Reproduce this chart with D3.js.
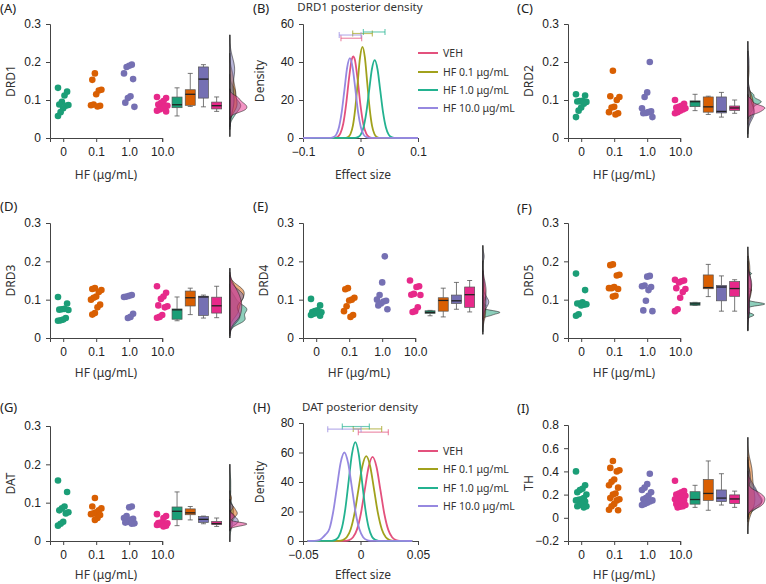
<!DOCTYPE html>
<html><head><meta charset="utf-8">
<script src="https://cdn.jsdelivr.net/npm/d3@7"></script>
<style>
body{margin:0;background:#fff;}
svg{display:block;}
text{font-family:"Noto Sans",sans-serif;}
.tick text{font-family:"Liberation Sans",Arial,sans-serif;font-size:12px;fill:#222;}
</style></head><body>
<svg id="c" width="766" height="584"></svg>
<script>
// ---------- categories ----------
const doses = ["0", "0.1", "1.0", "10.0"];
const seriesNames = ["VEH", "HF 0.1 μg/mL", "HF 1.0 μg/mL", "HF 10.0 μg/mL"];

// ---------- scatter data (per dose group: 0, 0.1, 1.0, 10.0 μg/mL) ----------
const drd1_0  = [0.132, 0.122, 0.112, 0.095, 0.088, 0.087, 0.085, 0.078, 0.068, 0.058];
const drd1_01 = [0.17, 0.153, 0.127, 0.125, 0.115, 0.088, 0.086, 0.085, 0.083];
const drd1_1  = [0.193, 0.19, 0.187, 0.17, 0.155, 0.11, 0.105, 0.093, 0.082];
const drd1_10 = [0.108, 0.105, 0.097, 0.092, 0.088, 0.085, 0.083, 0.078, 0.075, 0.072, 0.07];

const drd2_0  = [0.115, 0.112, 0.098, 0.097, 0.096, 0.095, 0.09, 0.08, 0.072, 0.055];
const drd2_01 = [0.177, 0.11, 0.108, 0.1, 0.082, 0.08, 0.068, 0.065, 0.062];
const drd2_1  = [0.2, 0.12, 0.108, 0.078, 0.07, 0.068, 0.066, 0.065, 0.055];
const drd2_10 = [0.1, 0.09, 0.085, 0.082, 0.08, 0.078, 0.075, 0.072, 0.068, 0.065];

const drd3_0  = [0.107, 0.09, 0.076, 0.075, 0.074, 0.073, 0.052, 0.048, 0.046, 0.045];
const drd3_01 = [0.13, 0.128, 0.125, 0.12, 0.108, 0.105, 0.1, 0.087, 0.08, 0.065, 0.061];
const drd3_1  = [0.112, 0.11, 0.108, 0.107, 0.063, 0.055, 0.052];
const drd3_10 = [0.135, 0.118, 0.108, 0.102, 0.085, 0.083, 0.08, 0.06, 0.055, 0.053];

const drd4_0  = [0.102, 0.085, 0.072, 0.07, 0.068, 0.067, 0.066, 0.065, 0.063, 0.06, 0.058];
const drd4_01 = [0.13, 0.127, 0.105, 0.1, 0.098, 0.083, 0.07, 0.06, 0.055];
const drd4_1  = [0.213, 0.145, 0.112, 0.1, 0.097, 0.095, 0.09, 0.085, 0.075];
const drd4_10 = [0.15, 0.135, 0.133, 0.115, 0.113, 0.112, 0.08, 0.07, 0.068];

const drd5_0  = [0.168, 0.125, 0.093, 0.09, 0.09, 0.088, 0.087, 0.085, 0.062, 0.058];
const drd5_01 = [0.192, 0.19, 0.165, 0.163, 0.133, 0.13, 0.13, 0.128, 0.11, 0.108];
const drd5_1  = [0.162, 0.16, 0.137, 0.135, 0.133, 0.125, 0.097, 0.072, 0.07];
const drd5_10 = [0.152, 0.15, 0.148, 0.145, 0.13, 0.128, 0.12, 0.105, 0.075, 0.07];

const dat_0  = [0.158, 0.128, 0.09, 0.085, 0.08, 0.075, 0.072, 0.05, 0.045, 0.04];
const dat_01 = [0.112, 0.09, 0.085, 0.08, 0.075, 0.072, 0.07, 0.068, 0.06, 0.055];
const dat_1  = [0.09, 0.088, 0.065, 0.06, 0.058, 0.055, 0.05, 0.048, 0.046, 0.045];
const dat_10 = [0.07, 0.065, 0.06, 0.048, 0.047, 0.046, 0.045, 0.044, 0.043, 0.042, 0.04, 0.038];

const th_0  = [0.4, 0.28, 0.25, 0.24, 0.22, 0.2, 0.17, 0.16, 0.155, 0.15, 0.14, 0.12, 0.11, 0.1, 0.1, 0.09];
const th_01 = [0.49, 0.43, 0.41, 0.4, 0.33, 0.31, 0.28, 0.26, 0.21, 0.2, 0.17, 0.16, 0.15, 0.12, 0.1, 0.07, 0.065];
const th_1  = [0.38, 0.29, 0.26, 0.24, 0.22, 0.19, 0.17, 0.16, 0.15, 0.14, 0.13, 0.12, 0.11];
const th_10 = [0.32, 0.23, 0.22, 0.21, 0.2, 0.19, 0.18, 0.17, 0.165, 0.16, 0.15, 0.14, 0.13, 0.12, 0.11, 0.1, 0.095, 0.09];

// ---------- posterior densities: [effect size, density] ----------
const drd1Post_veh = [[-0.1,0],[-0.045,0.1],[-0.04,0.55],[-0.035,2.4],[-0.03,7.5],[-0.025,17.7],[-0.02,31.3],[-0.015,41.6],[-0.0126,43],[-0.01,41.4],[-0.005,30.8],[0,17.2],[0.005,7.2],[0.01,2.25],[0.015,0.5],[0.02,0.1],[0.1,0]];
const drd1Post_hf01 = [[-0.1,0],[-0.0257,0.1],[-0.0215,0.53],[-0.0174,2.1],[-0.0132,6.5],[-0.0091,15.6],[-0.0049,29.1],[-0.0008,42.4],[0.0034,48],[0.0076,42.4],[0.0117,29.1],[0.0159,15.6],[0.02,6.5],[0.0242,2.1],[0.0283,0.53],[0.0325,0.1],[0.1,0]];
const drd1Post_hf1 = [[-0.1,0],[-0.0094,0.09],[-0.0045,0.45],[0.0004,1.8],[0.0052,5.5],[0.0101,13.3],[0.015,24.9],[0.0198,36.2],[0.0247,41],[0.0296,36.2],[0.0344,24.9],[0.0393,13.3],[0.0442,5.5],[0.049,1.8],[0.0539,0.45],[0.0588,0.09],[0.1,0]];
const drd1Post_hf10 = [[-0.1,0],[-0.0517,0.09],[-0.0469,0.47],[-0.0422,1.8],[-0.0374,5.7],[-0.0327,13.6],[-0.0279,25.5],[-0.0232,37.1],[-0.0184,42],[-0.0137,37.1],[-0.0089,25.5],[-0.0042,13.6],[0.0006,5.7],[0.0054,1.8],[0.0101,0.47],[0.0149,0.09],[0.1,0]];
const drd1Intervals = [[-0.034, 0.002], [-0.0136, 0.0206], [0.005, 0.0426], [-0.037, 0.001]];

const datPost_veh = [[-0.046,0],[-0.0133,0.13],[-0.0099,0.63],[-0.0065,2.5],[-0.0031,7.7],[0.0003,18.5],[0.0037,34.6],[0.0071,50.3],[0.0105,57],[0.0139,50.3],[0.0173,34.6],[0.0207,18.5],[0.0241,7.7],[0.0275,2.5],[0.0309,0.63],[0.0343,0.13],[0.045,0]];
const datPost_hf01 = [[-0.046,0],[-0.0188,0.13],[-0.0154,0.64],[-0.012,2.5],[-0.0086,7.8],[-0.0052,18.7],[-0.0018,34.9],[0.0016,50.7],[0.005,57.5],[0.0084,50.7],[0.0118,34.9],[0.0152,18.7],[0.0186,7.8],[0.022,2.5],[0.0254,0.64],[0.0288,0.13],[0.045,0]];
const datPost_hf1 = [[-0.046,0],[-0.0248,0.15],[-0.0219,0.74],[-0.019,2.9],[-0.0161,9.1],[-0.0132,21.8],[-0.0103,40.6],[-0.0074,59.1],[-0.0045,67],[-0.0016,59.1],[0.0013,40.6],[0.0042,21.8],[0.0071,9.1],[0.01,2.9],[0.0129,0.74],[0.0158,0.15],[0.045,0]];
const datPost_hf10 = [[-0.046,0],[-0.04,0.05],[-0.036,0.6],[-0.033,2.3],[-0.0303,4.5],[-0.027,8.3],[-0.0238,19.5],[-0.0205,36.4],[-0.0173,53],[-0.014,60],[-0.0108,53],[-0.0075,36.4],[-0.0043,19.5],[-0.001,8.1],[0.0023,2.6],[0.0055,0.67],[0.0088,0.13],[0.045,0]];
const datIntervals = [[-0.0019, 0.0242], [-0.0063, 0.0184], [-0.0158, 0.0077], [-0.0285, 0.0005]];

// ---------- styles ----------
const groupColors = ["#1b9e77", "#d95f02", "#7570b3", "#e7298a"];
const postColors = ["#e3517d", "#a1a11c", "#23b290", "#9688e0"];

const svg = d3.select("#c");

function panelLabel(txt, x, y) {
  svg.append("text").attr("x", x).attr("y", y).attr("font-size", 13).attr("fill", "#222").text(txt);
}

function styleAxis(g) {
  g.select(".domain").attr("stroke", "#444").attr("stroke-width", 1);
  g.selectAll(".tick line").attr("stroke", "#444");
}

function numFmt(d) {
  if (d === 0) return "0";
  return d3.format(".1f")(d);
}

function nrd0(v) {
  const s = d3.deviation(v);
  const sorted = v.slice().sort(d3.ascending);
  const iqr = d3.quantileSorted(sorted, 0.75) - d3.quantileSorted(sorted, 0.25);
  let lo = Math.min(s, iqr / 1.34);
  if (!(lo > 0)) lo = s || Math.abs(sorted[0]) || 1;
  return 0.9 * lo * Math.pow(v.length, -0.2);
}

function scatterPanel(cfg, groups) {
  const { ax, yTop, yBot, domain, yTicks, yLabel, labelDy } = cfg;
  const unit = 33;
  const y = d3.scaleLinear().domain(domain).range([yBot, yTop]);
  const x = d3.scaleLinear().domain([0.6, 4]).range([ax, ax + 3.4 * unit]);
  const g = svg.append("g");

  // axes
  const gx = g.append("g").attr("transform", `translate(0,${yBot})`)
    .call(d3.axisBottom(x).tickValues([1, 2, 3, 4]).tickFormat((d, i) => doses[i]).tickSizeOuter(0).tickSize(4).tickPadding(5));
  styleAxis(gx);
  const gy = g.append("g").attr("transform", `translate(${ax},0)`)
    .call(d3.axisLeft(y).tickValues(yTicks).tickFormat(numFmt).tickSizeOuter(0).tickSize(4).tickPadding(5));
  styleAxis(gy);

  g.append("text").attr("x", ax + 56).attr("y", yBot + labelDy).attr("text-anchor", "middle")
    .attr("font-size", 12).attr("fill", "#333").text("HF (μg/mL)");
  g.append("text").attr("transform", `translate(${ax - 35},${(yTop + yBot) / 2}) rotate(-90)`)
    .attr("text-anchor", "middle").attr("font-size", 12).attr("fill", "#333").text(yLabel);

  // violins (half densities)
  const base = x(6.05);
  const dens = groups.map(v => {
    const bw = nrd0(v);
    const lo = d3.min(v) - 3 * bw, hi = d3.max(v) + 3 * bw;
    const n = 120;
    const pts = d3.range(n + 1).map(i => {
      const t = lo + (hi - lo) * i / n;
      const d = d3.mean(v, xi => Math.exp(-0.5 * ((t - xi) / bw) ** 2)) / (bw * Math.sqrt(2 * Math.PI));
      return [t, d];
    });
    return { lo, hi, pts };
  });
  const maxD = d3.max(dens, d => d3.max(d.pts, p => p[1]));
  const wScale = d3.scaleLinear().domain([0, maxD]).range([0, 17]);
  const area = d3.area().y(p => y(p[0])).x0(base).x1(p => base + wScale(p[1])).curve(d3.curveBasis);
  dens.forEach((d, gi) => {
    g.append("path").attr("d", area(d.pts)).attr("fill", groupColors[gi]).attr("fill-opacity", 0.5)
      .attr("stroke", "#222").attr("stroke-width", 0.6);
  });
  g.append("line").attr("x1", base).attr("x2", base)
    .attr("y1", y(d3.max(dens, d => d.hi))).attr("y2", y(d3.min(dens, d => d.lo)))
    .attr("stroke", "#222").attr("stroke-width", 1);

  // boxplots
  const boxPos = [4.45, 4.85, 5.25, 5.65];
  const bw = 10;
  groups.forEach((v, gi) => {
    const s = v.slice().sort(d3.ascending);
    const q1 = d3.quantileSorted(s, 0.25), med = d3.quantileSorted(s, 0.5), q3 = d3.quantileSorted(s, 0.75);
    const iqr = q3 - q1;
    const wLo = d3.min(s.filter(d => d >= q1 - 1.5 * iqr - 1e-9));
    const wHi = d3.max(s.filter(d => d <= q3 + 1.5 * iqr + 1e-9));
    const cx = x(boxPos[gi]);
    const bg = g.append("g");
    bg.append("line").attr("x1", cx).attr("x2", cx).attr("y1", y(wHi)).attr("y2", y(q3)).attr("stroke", "#555").attr("stroke-width", 0.8);
    bg.append("line").attr("x1", cx).attr("x2", cx).attr("y1", y(q1)).attr("y2", y(wLo)).attr("stroke", "#555").attr("stroke-width", 0.8);
    bg.append("line").attr("x1", cx - 2.5).attr("x2", cx + 2.5).attr("y1", y(wHi)).attr("y2", y(wHi)).attr("stroke", "#555").attr("stroke-width", 0.8);
    bg.append("line").attr("x1", cx - 2.5).attr("x2", cx + 2.5).attr("y1", y(wLo)).attr("y2", y(wLo)).attr("stroke", "#555").attr("stroke-width", 0.8);
    bg.append("rect").attr("x", cx - bw / 2).attr("width", bw).attr("y", y(q3)).attr("height", Math.max(1, y(q1) - y(q3)))
      .attr("fill", groupColors[gi]).attr("stroke", "#555").attr("stroke-width", 0.7);
    bg.append("line").attr("x1", cx - bw / 2).attr("x2", cx + bw / 2).attr("y1", y(med)).attr("y2", y(med)).attr("stroke", "#222").attr("stroke-width", 1.3);
  });

  // dots
  groups.forEach((v, gi) => {
    g.append("g").selectAll("circle").data(v).join("circle")
      .attr("cx", (d, i) => x(gi + 1) + (((i * 7 + gi * 3) % 9) - 4) * 1.3)
      .attr("cy", d => y(d)).attr("r", 3.3).attr("fill", groupColors[gi]);
  });
}

function posteriorPanel(cfg, curves, intervals) {
  const { ax, yTop, yBot, xDomain, xTicks, yDomain, yTicks, title, levels, legendY, titleY, labelDy } = cfg;
  const x = d3.scaleLinear().domain(xDomain).range([ax, ax + 115]);
  const y = d3.scaleLinear().domain(yDomain).range([yBot, yTop]);
  const g = svg.append("g");
  const gx = g.append("g").attr("transform", `translate(0,${yBot})`)
    .call(d3.axisBottom(x).tickValues(xTicks).tickFormat(d => d === 0 ? "0" : d3.format(Math.abs(d) < 0.09 ? ".2f" : ".1f")(d)).tickSizeOuter(0).tickSize(4).tickPadding(5));
  styleAxis(gx);
  const gy = g.append("g").attr("transform", `translate(${ax},0)`)
    .call(d3.axisLeft(y).tickValues(yTicks).tickFormat(d3.format("d")).tickSizeOuter(0).tickSize(4).tickPadding(5));
  styleAxis(gy);

  g.append("text").attr("x", ax + 60).attr("y", yBot + labelDy).attr("text-anchor", "middle")
    .attr("font-size", 12).attr("fill", "#333").text("Effect size");
  g.append("text").attr("transform", `translate(${ax - 39},${(yTop + yBot) / 2}) rotate(-90)`)
    .attr("text-anchor", "middle").attr("font-size", 12).attr("fill", "#333").text("Density");
  g.append("text").attr("x", ax + 57).attr("y", titleY).attr("text-anchor", "middle")
    .attr("font-size", 11.5).attr("fill", "#333").text(title);

  const line = d3.line().x(p => x(p[0])).y(p => y(p[1])).curve(d3.curveMonotoneX);
  curves.forEach((c, i) => {
    g.append("path").attr("d", line(c)).attr("fill", "none").attr("stroke", postColors[i]).attr("stroke-width", 1.8);
  });
  intervals.forEach((iv, i) => {
    const yy = y(levels[i]);
    const ig = g.append("g").attr("stroke", postColors[i]).attr("stroke-opacity", 0.65).attr("stroke-width", 1.2);
    ig.append("line").attr("x1", x(iv[0])).attr("x2", x(iv[1])).attr("y1", yy).attr("y2", yy);
    ig.append("line").attr("x1", x(iv[0])).attr("x2", x(iv[0])).attr("y1", yy - 3).attr("y2", yy + 3);
    ig.append("line").attr("x1", x(iv[1])).attr("x2", x(iv[1])).attr("y1", yy - 3).attr("y2", yy + 3);
  });
  // legend
  seriesNames.forEach((n, i) => {
    const ly = legendY[i];
    g.append("line").attr("x1", 418).attr("x2", 438).attr("y1", ly).attr("y2", ly).attr("stroke", postColors[i]).attr("stroke-width", 2);
    g.append("text").attr("x", 443).attr("y", ly + 4).attr("font-size", 10.5).attr("fill", "#333").text(n);
  });
}

// ---------- panels ----------
panelLabel("(A)", 0, 13);
scatterPanel({ ax: 50, yTop: 24, yBot: 138, domain: [0, 0.3], yTicks: [0, 0.1, 0.2, 0.3], yLabel: "DRD1", labelDy: 41 },
  [drd1_0, drd1_01, drd1_1, drd1_10]);

panelLabel("(B)", 253, 13);
posteriorPanel({ ax: 303, yTop: 24, yBot: 138, xDomain: [-0.1, 0.1], xTicks: [-0.1, 0, 0.1], yDomain: [0, 60], yTicks: [0, 20, 40, 60],
  title: "DRD1 posterior density", titleY: 11, levels: [52.5, 55, 55.8, 54.2], legendY: [53, 72, 90, 108], labelDy: 41 },
  [drd1Post_veh, drd1Post_hf01, drd1Post_hf1, drd1Post_hf10], drd1Intervals);

panelLabel("(C)", 517, 13);
scatterPanel({ ax: 568, yTop: 24, yBot: 138, domain: [0, 0.3], yTicks: [0, 0.1, 0.2, 0.3], yLabel: "DRD2", labelDy: 41 },
  [drd2_0, drd2_01, drd2_1, drd2_10]);

panelLabel("(D)", 0, 211);
scatterPanel({ ax: 50, yTop: 223, yBot: 338, domain: [0, 0.3], yTicks: [0, 0.1, 0.2, 0.3], yLabel: "DRD3", labelDy: 39 },
  [drd3_0, drd3_01, drd3_1, drd3_10]);

panelLabel("(E)", 253, 211);
scatterPanel({ ax: 303, yTop: 223, yBot: 338, domain: [0, 0.3], yTicks: [0, 0.1, 0.2, 0.3], yLabel: "DRD4", labelDy: 39 },
  [drd4_0, drd4_01, drd4_1, drd4_10]);

panelLabel("(F)", 517, 213);
scatterPanel({ ax: 568, yTop: 223, yBot: 338, domain: [0, 0.3], yTicks: [0, 0.1, 0.2, 0.3], yLabel: "DRD5", labelDy: 39 },
  [drd5_0, drd5_01, drd5_1, drd5_10]);

panelLabel("(G)", 0, 412);
scatterPanel({ ax: 50, yTop: 426, yBot: 541, domain: [0, 0.3], yTicks: [0, 0.1, 0.2, 0.3], yLabel: "DAT", labelDy: 38 },
  [dat_0, dat_01, dat_1, dat_10]);

panelLabel("(H)", 253, 412);
posteriorPanel({ ax: 303, yTop: 423, yBot: 541, xDomain: [-0.05, 0.05], xTicks: [-0.05, 0, 0.05], yDomain: [0, 80], yTicks: [0, 20, 40, 60, 80],
  title: "DAT posterior density", titleY: 411, levels: [73.8, 76, 77.6, 75.8], legendY: [451, 469, 488, 506], labelDy: 38 },
  [datPost_veh, datPost_hf01, datPost_hf1, datPost_hf10], datIntervals);

panelLabel("(I)", 517, 413);
scatterPanel({ ax: 568, yTop: 425, yBot: 541, domain: [-0.2, 0.8], yTicks: [-0.2, 0, 0.2, 0.4, 0.6, 0.8], yLabel: "TH", labelDy: 38 },
  [th_0, th_01, th_1, th_10]);
</script>
</body></html>
